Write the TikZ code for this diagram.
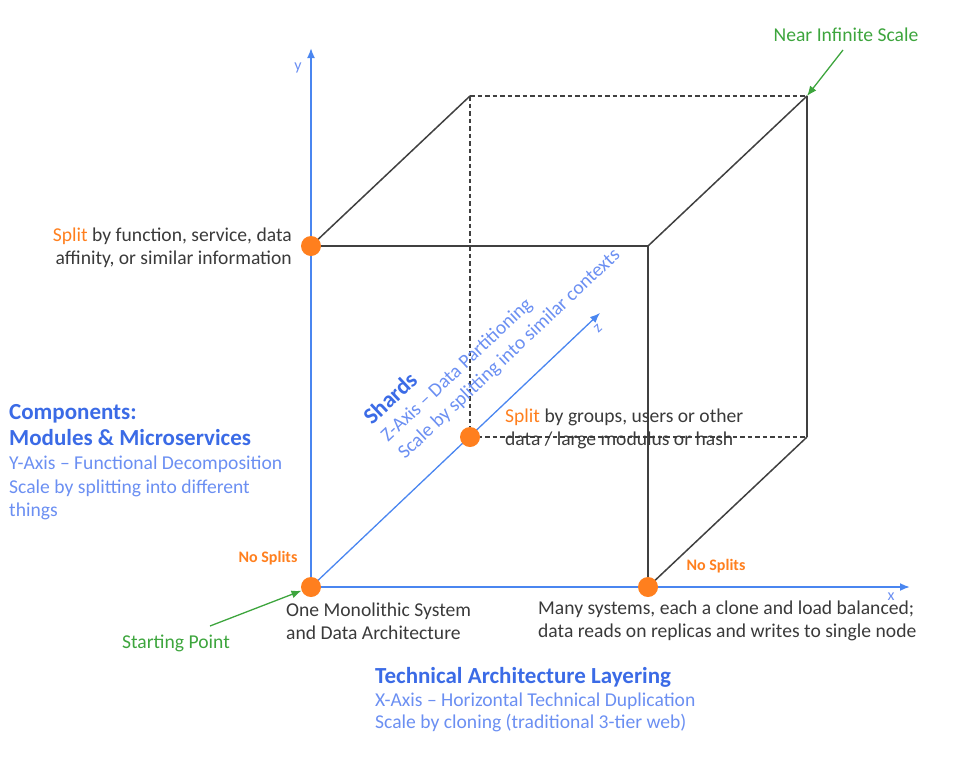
\documentclass[tikz,border=0pt]{standalone}
\usepackage{fontspec}
\setmainfont{Carlito}
\usetikzlibrary{arrows.meta}
\definecolor{axisblue}{HTML}{4A86F0}
\definecolor{headblue}{HTML}{3B6BE6}
\definecolor{subblue}{HTML}{6B8FF2}
\definecolor{dotorange}{HTML}{FF7F1E}
\definecolor{txtgray}{HTML}{3A3A3A}
\definecolor{arrgreen}{HTML}{3DA53D}
\definecolor{edgecol}{HTML}{404040}
\begin{document}
\begin{tikzpicture}[x=1pt,y=-1pt,
  axis/.style={draw=axisblue,line width=1.8pt,-{Latex[length=10pt,width=8pt]}},
  edge/.style={draw=edgecol,line width=1.5pt},
  hidden/.style={draw=edgecol,line width=1.5pt,dash pattern=on 4.5pt off 3pt},
  dot/.style={circle,fill=dotorange,inner sep=0pt,minimum size=20pt},
  garrow/.style={draw=arrgreen,line width=1.3pt,-{Latex[length=10pt,width=8pt]}},
  body/.style={text=txtgray,font=\fontsize{19.6}{23}\selectfont,inner sep=0pt},
  head/.style={text=headblue,font=\bfseries\fontsize{23}{26}\selectfont,inner sep=0pt},
  sub/.style={text=subblue,font=\fontsize{19.6}{23.5}\selectfont,inner sep=0pt},
  nosplit/.style={text=dotorange,font=\bfseries\fontsize{16}{18}\selectfont,inner sep=0pt},
  green/.style={text=arrgreen,font=\fontsize{19.6}{22}\selectfont,inner sep=0pt},
  axlabel/.style={text=subblue,font=\fontsize{16}{18}\selectfont,inner sep=0pt}
]
\path[use as bounding box] (0,0) rectangle (970,772);
% cube corners
\coordinate (O) at (311,587);
\coordinate (A) at (311,246);
\coordinate (B) at (648,587);
\coordinate (C) at (648,246);
\coordinate (D) at (470,96);
\coordinate (E) at (807,96);
\coordinate (F) at (807,437);
\coordinate (G) at (470,437);
\coordinate (yend) at (311,48);
\coordinate (xend) at (910,587);
\coordinate (zend) at (600,313);
% hidden edges
\draw[hidden] (D) -- (E);
\draw[hidden] (D) -- (G);
\draw[hidden] (G) -- (F);
% visible edges
\draw[edge] (A) -- (C);
\draw[edge] (C) -- (B);
\draw[edge] (A) -- (D);
\draw[edge] (C) -- (E);
\draw[edge] (E) -- (F);
\draw[edge] (B) -- (F);
% axes
\draw[axis] (O) -- (yend);
\draw[axis] (O) -- (xend);
\draw[axis,line width=1.3pt] (O) -- (zend);
\node[axlabel] (ylab) at (298,68) {y};
\node[axlabel] (xlab) at (891,597) {x};
\node[axlabel,rotate=43.3] (zlab) at (598,329) {z};
% dots
\node[dot] (dO) at (O) {};
\node[dot] (dA) at (A) {};
\node[dot] (dB) at (B) {};
\node[dot] (dG) at (G) {};
% texts
\node[body,align=right,anchor=east] (splitfn) at (292,248) {{\color{dotorange}Split} by function, service, data\\affinity, or similar information};
\node[body,align=left,anchor=west] (splitgr) at (505,429) {{\color{dotorange}Split} by groups, users or other\\data / large modulus or hash};
\node[head,align=left,anchor=west] (comp) at (9,425) {Components:\\Modules \& Microservices};
\node[sub,align=left,anchor=west] (compsub) at (9,488) {Y-Axis -- Functional Decomposition\\Scale by splitting into different\\things};
\node[head,anchor=west] (tech) at (375,677) {Technical Architecture Layering};
\node[sub,align=left,anchor=west,font=\fontsize{19.6}{22}\selectfont] (techsub) at (375,712) {X-Axis -- Horizontal Technical Duplication\\Scale by cloning (traditional 3-tier web)};
\node[body,align=left,anchor=west] (mono) at (286,621) {One Monolithic System\\and Data Architecture};
\node[body,align=left,anchor=west] (many) at (538,621) {Many systems, each a clone and load balanced;\\data reads on replicas and writes to single node};
\node[nosplit] (ns1) at (268,558) {No Splits};
\node[nosplit] (ns2) at (716,566) {No Splits};
% shards
\node[head,rotate=43.3,anchor=base west] (shards) at (372,426) {Shards};
\node[sub,rotate=43.3,anchor=base west] (zsub1) at (388,443) {Z-Axis -- Data Partitioning};
\node[sub,rotate=43.3,anchor=base west] (zsub2) at (405,460) {Scale by splitting into similar contexts};
% green annotations
\node[green] (nis) at (846,35) {Near Infinite Scale};
\node[green] (sp) at (176,643) {Starting Point};
\draw[garrow] (843,50) -- (E);
\draw[garrow] (210,626) -- (dO);
\end{tikzpicture}
\end{document}
